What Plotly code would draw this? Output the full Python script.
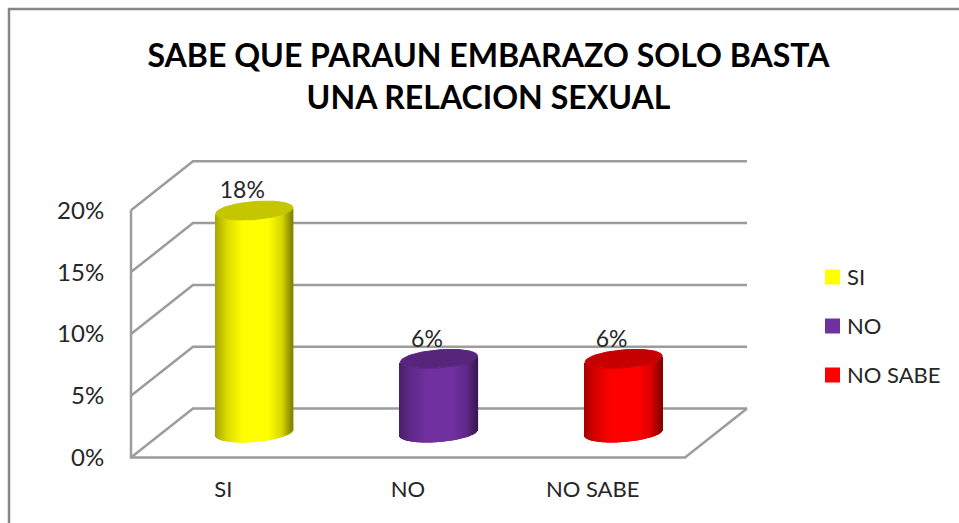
import numpy as np
import plotly.graph_objects as go

categories = ["SI", "NO", "NO SABE"]
values = [18, 6, 6]
value_labels = ["18%", "6%", "6%"]
y_ticks = [0, 5, 10, 15, 20]
y_tick_labels = ["0%", "5%", "10%", "15%", "20%"]

colors = [(255, 255, 0), (112, 48, 160), (255, 0, 0)]

W, H = 959, 523
FONT = "Lato"
TEXT = "#262626"
LINE = "#9c9c9c"

# pixels per data unit, and where the front axes sit on the page
XS, YS = 184.67, 12.36
X0_PX, Y0_PX = 131, 457.5
PAD = 10

# depth of the fake 3d box, in data units
DX, DY = 62 / XS, 49 / YS
# cylinder shape
RX, RY, TILT = 38.5 / XS, 9 / YS, 3 / YS


def rgb(c, k):
    return "rgb(%d,%d,%d)" % tuple(int(v * k) for v in c)


def front_edge(u):
    return DY / 2 + TILT * u - RY * np.sqrt(1 - u ** 2)


fig = go.Figure()

# cylinder bodies: narrow overlapping bars shaded from edge to edge
for i, (val, col) in enumerate(zip(values, colors)):
    u = np.linspace(-0.995, 0.995, 78)
    shade = np.interp(u, [-1, -0.7, -0.3, 0.4, 0.75, 1], [0.66, 0.86, 1, 1, 0.84, 0.52])
    fig.add_trace(go.Bar(
        x=i + DX / 2 + RX * u, y=[val] * len(u), base=front_edge(u),
        width=1.6 / XS,
        marker=dict(color=[rgb(col, k) for k in shade], line=dict(width=0)),
        showlegend=False, hoverinfo="skip"
    ))

# cylinder tops
t = np.linspace(0, 2 * np.pi, 90)
for i, (val, col) in enumerate(zip(values, colors)):
    fig.add_trace(go.Scatter(
        x=i + DX / 2 + RX * np.cos(t),
        y=val + DY / 2 + TILT * np.cos(t) + RY * np.sin(t),
        mode="lines", fill="toself", fillcolor=rgb(col, 0.78),
        line=dict(color=rgb(col, 0.78), width=1),
        showlegend=False, hoverinfo="skip"
    ))

# data labels
fig.add_trace(go.Scatter(
    x=[i + 19 / XS for i in range(len(categories))],
    y=[v + 42.5 / YS for v in values],
    text=value_labels, mode="text", textposition="middle center",
    textfont=dict(family=FONT, size=23, color=TEXT),
    showlegend=False, hoverinfo="skip", cliponaxis=False
))

# walls and floor, behind the bars
x_left, x_right = -0.5, len(categories) - 0.5
shapes = []
for tick in y_ticks:
    shapes.append(dict(
        type="path", xref="x", yref="y", layer="below",
        path="M %f %f L %f %f L %f %f" % (
            x_left, tick, x_left + DX, tick + DY, x_right + DX, tick + DY),
        line=dict(color=LINE, width=2.5)
    ))
shapes.append(dict(
    type="path", xref="x", yref="y", layer="below",
    path="M %f %f L %f %f L %f %f L %f %f" % (
        x_left, y_ticks[-1], x_left, 0, x_right, 0, x_right + DX, DY),
    line=dict(color=LINE, width=2.5)
))
# chart frame, only top and left are in view
shapes.append(dict(
    type="path", xref="paper", yref="paper", layer="below",
    path="M %f 0 L %f %f L 1 %f" % (9 / W, 9 / W, 1 - 9 / H, 1 - 9 / H),
    line=dict(color="#868686", width=2.5)
))

# legend: swatch and text sit closer than the native legend allows
annotations = []
for name, col, ly in zip(categories, colors, [277, 326, 375]):
    shapes.append(dict(
        type="rect", xref="paper", yref="paper",
        x0=825 / W, x1=840 / W, y0=1 - (ly + 7.5) / H, y1=1 - (ly - 7.5) / H,
        fillcolor=rgb(col, 1), line=dict(width=0)
    ))
    annotations.append(dict(
        text=name, xref="paper", yref="paper", showarrow=False,
        x=845 / W, xanchor="left", y=1 - (ly - 1) / H, yanchor="middle",
        font=dict(family=FONT, size=22, color=TEXT)
    ))

fig.update_layout(
    width=W, height=H,
    margin=dict(l=0, r=0, t=0, b=0, autoexpand=False),
    paper_bgcolor="white", plot_bgcolor="rgba(0,0,0,0)",
    barmode="overlay",
    showlegend=False,
    font=dict(family=FONT, color=TEXT),
    title=dict(
        text="SABE QUE PARAUN EMBARAZO SOLO BASTA<br>UNA RELACION SEXUAL",
        x=488.5 / W, xanchor="center", y=1 - 67 / H, yanchor="middle",
        font=dict(family=FONT, size=32.1, color="#000000", weight="bold")
    ),
    xaxis=dict(
        domain=[(X0_PX - PAD) / W, (X0_PX + 617 + PAD) / W],
        range=[x_left - PAD / XS, x_left + (617 + PAD) / XS],
        tickvals=list(range(len(categories))), ticktext=categories,
        ticks="outside", ticklen=2, tickcolor="rgba(0,0,0,0)",
        tickfont=dict(family=FONT, size=22, color=TEXT),
        showgrid=False, zeroline=False, showline=False
    ),
    yaxis=dict(
        domain=[(H - Y0_PX - PAD) / H, (H - Y0_PX + 296 + PAD) / H],
        range=[-PAD / YS, (296 + PAD) / YS],
        tickvals=y_ticks, ticktext=y_tick_labels,
        ticks="outside", ticklen=11, tickcolor="rgba(0,0,0,0)",
        tickfont=dict(family=FONT, size=24, color=TEXT),
        showgrid=False, zeroline=False, showline=False
    ),
    shapes=shapes,
    annotations=annotations
)

fig.write_html("out.html", config=dict(displayModeBar=False),
               post_script="document.body.style.margin='0';")
